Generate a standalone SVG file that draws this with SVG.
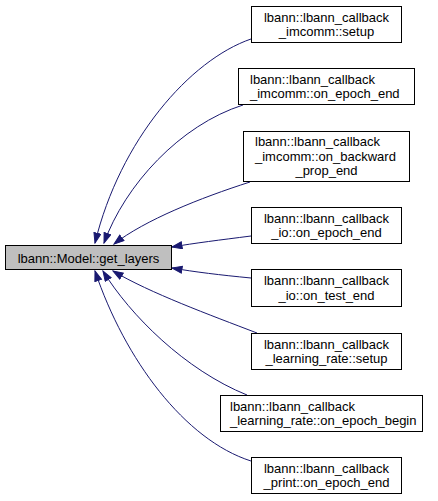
<svg xmlns="http://www.w3.org/2000/svg" width="438" height="501" viewBox="0 0 438 501">
<style>
  text { font-family: "Liberation Sans", Arial, Helvetica, sans-serif; font-size: 13px; fill: #000; }
  .c { text-anchor: middle; }
  .box { fill: #fff; stroke: #000; stroke-width: 1; }
  .main { fill: #bfbfbf; stroke: #000; stroke-width: 1; }
  .edge { fill: none; stroke: #191970; stroke-width: 1; marker-end: url(#ah); }
</style>
<defs>
  <marker id="ah" markerWidth="12" markerHeight="9" refX="10.5" refY="4" orient="auto" markerUnits="userSpaceOnUse">
    <path d="M0.5,0.5 L10.5,4 L0.5,7.5 z" fill="#191970" stroke="#191970" stroke-width="1"/>
  </marker>
</defs>
<rect width="438" height="501" fill="#fff"/>
<g id="edges">
  <path class="edge" d="M251,39 C190,60 120,140 95,243"/>
  <path class="edge" d="M243,105 C180,125 125,185 104,243"/>
  <path class="edge" d="M250,182 C200,198 145,220 114,244"/>
  <path class="edge" d="M251,236 C220,240 195,243 172,247"/>
  <path class="edge" d="M251,278 C220,275 195,272 172,268"/>
  <path class="edge" d="M257,333 C210,315 150,293 113,271"/>
  <path class="edge" d="M247,395 C185,370 130,315 103,271"/>
  <path class="edge" d="M251,461 C185,440 125,360 95,271"/>
</g>
<g id="node_main">
  <rect class="main" x="5.5" y="245.5" width="166" height="24"/>
  <text class="c" x="88.5" y="262.5">lbann::Model::get_layers</text>
</g>
<g id="node1">
  <rect class="box" x="251.5" y="6.5" width="150" height="36"/>
  <text class="c" x="326.5" y="21.75">lbann::lbann_callback</text>
  <text class="c" x="326.5" y="36.25">_imcomm::setup</text>
</g>
<g id="node2">
  <rect class="box" x="238.5" y="68.5" width="176" height="36"/>
  <text x="250" y="83.75">lbann::lbann_callback</text>
  <text x="250" y="98.25">_imcomm::on_epoch_end</text>
</g>
<g id="node3">
  <rect class="box" x="243.5" y="131.5" width="166" height="50"/>
  <text x="255" y="146">lbann::lbann_callback</text>
  <text x="255" y="160.5">_imcomm::on_backward</text>
  <text class="c" x="326.5" y="175">_prop_end</text>
</g>
<g id="node4">
  <rect class="box" x="251.5" y="207.5" width="150" height="36"/>
  <text class="c" x="326.5" y="222.75">lbann::lbann_callback</text>
  <text class="c" x="326.5" y="237.25">_io::on_epoch_end</text>
</g>
<g id="node5">
  <rect class="box" x="251.5" y="269.5" width="150" height="37"/>
  <text class="c" x="326.5" y="285">lbann::lbann_callback</text>
  <text class="c" x="326.5" y="299.5">_io::on_test_end</text>
</g>
<g id="node6">
  <rect class="box" x="251.5" y="333.5" width="150" height="36"/>
  <text class="c" x="326.5" y="348.75">lbann::lbann_callback</text>
  <text class="c" x="326.5" y="363.25">_learning_rate::setup</text>
</g>
<g id="node7">
  <rect class="box" x="220.5" y="395.5" width="202" height="36"/>
  <text x="230" y="410.75">lbann::lbann_callback</text>
  <text x="230" y="425.25">_learning_rate::on_epoch_begin</text>
</g>
<g id="node8">
  <rect class="box" x="251.5" y="457.5" width="150" height="36"/>
  <text class="c" x="326.5" y="472.75">lbann::lbann_callback</text>
  <text class="c" x="326.5" y="487.25">_print::on_epoch_end</text>
</g>
</svg>
